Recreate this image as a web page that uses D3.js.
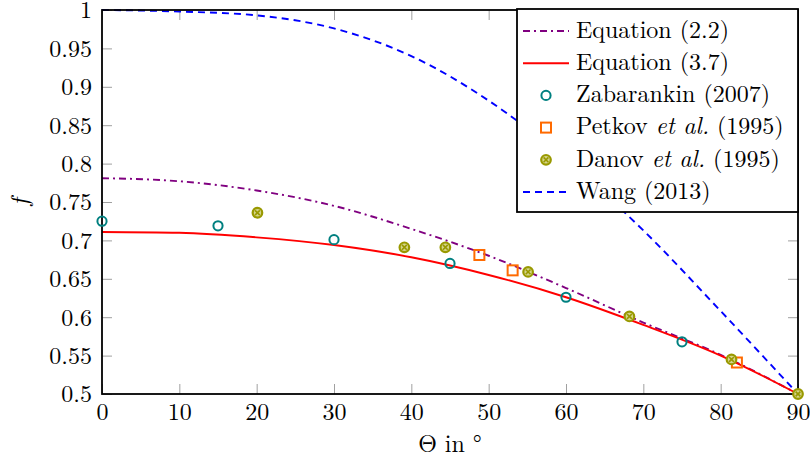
<!DOCTYPE html>
<html>
<head>
<meta charset="utf-8">
<script src="https://cdn.jsdelivr.net/npm/d3@7"></script>
<style>
  body { margin: 0; background: #fff; }
</style>
</head>
<body>
<svg id="chart" width="810" height="462"></svg>
<script>
// curves, read every 10 degrees
var thetaCurve = [0, 10, 20, 30, 40, 50, 60, 70, 80, 90];
var eq22 = [0.781, 0.777, 0.765, 0.745, 0.715, 0.680, 0.638, 0.593, 0.551, 0.5];
var eq37 = [0.711, 0.710, 0.704, 0.694, 0.678, 0.655, 0.626, 0.590, 0.550, 0.5];
var wang = [1.0, 0.998, 0.993, 0.976, 0.940, 0.882, 0.805, 0.713, 0.608, 0.5];

// measurements
var zabTheta = [0, 15, 30, 45, 60, 75];
var zabF = [0.725, 0.719, 0.701, 0.670, 0.626, 0.568];
var petTheta = [48.8, 53.1, 82.1];
var petF = [0.681, 0.661, 0.541];
var danTheta = [20.1, 39.1, 44.4, 55.1, 68.2, 81.4, 90];
var danF = [0.736, 0.691, 0.691, 0.659, 0.601, 0.545, 0.5];

var xTicks = [0, 10, 20, 30, 40, 50, 60, 70, 80, 90];
var yTicks = [0.5, 0.55, 0.6, 0.65, 0.7, 0.75, 0.8, 0.85, 0.9, 0.95, 1];

var cPurple = "#800080", cRed = "#ff0000", cTeal = "#008080",
    cOrange = "#ff6a00", cOlive = "#999900", cBlue = "#0000ff";
var font = "Latin Modern Roman, Liberation Serif, serif";
var fs = 24;

var margin = {left: 102, top: 10, right: 12, bottom: 68};
var width = 810 - margin.left - margin.right,
    height = 462 - margin.top - margin.bottom;

var svg = d3.select("#chart");
var g = svg.append("g").attr("transform", "translate(" + margin.left + "," + margin.top + ")");

var x = d3.scaleLinear().domain([0, 90]).range([0, width]);
var y = d3.scaleLinear().domain([0.5, 1]).range([height, 0]);

// ticks (inside, grey) on all four sides
function tickStyle(sel) {
    sel.select(".domain").remove();
    sel.attr("font-family", font).attr("font-size", fs);
    sel.selectAll(".tick line").attr("stroke", "#a0a0a0").attr("stroke-width", 1);
    sel.selectAll(".tick text").attr("fill", "#000");
}
g.append("g").attr("transform", "translate(0," + height + ")")
    .call(d3.axisBottom(x).tickValues(xTicks).tickSize(-10).tickPadding(10).tickFormat(d3.format("d")))
    .call(tickStyle)
    .selectAll("text").attr("dy", "0.66em");
g.append("g")
    .call(d3.axisTop(x).tickValues(xTicks).tickSize(-10).tickFormat(""))
    .call(tickStyle);
g.append("g")
    .call(d3.axisLeft(y).tickValues(yTicks).tickSize(-10).tickPadding(10).tickFormat(function(d) { return String(+d.toFixed(2)); }))
    .call(tickStyle)
    .selectAll("text").attr("dy", "0.33em");
g.append("g").attr("transform", "translate(" + width + ",0)")
    .call(d3.axisRight(y).tickValues(yTicks).tickSize(-10).tickFormat(""))
    .call(tickStyle);

// curves
var line = d3.line().curve(d3.curveMonotoneX)
    .x(function(d) { return x(d[0]); })
    .y(function(d) { return y(d[1]); });

function curve(vals, color, dash) {
    g.append("path")
        .datum(thetaCurve.map(function(t, i) { return [t, vals[i]]; }))
        .attr("d", line)
        .attr("fill", "none")
        .attr("stroke", color)
        .attr("stroke-width", 1.9)
        .attr("stroke-dasharray", dash);
}
curve(wang, cBlue, "7,5");
curve(eq22, cPurple, "7,4,2,4");
curve(eq37, cRed, null);

// frame
g.append("rect").attr("width", width).attr("height", height)
    .attr("fill", "none").attr("stroke", "#000").attr("stroke-width", 1.8);

// markers
function circleMark(sel, cx, cy) {
    sel.append("circle").attr("cx", cx).attr("cy", cy).attr("r", 4.6)
        .attr("fill", "none").attr("stroke", cTeal).attr("stroke-width", 2);
}
function squareMark(sel, cx, cy) {
    sel.append("rect").attr("x", cx - 5).attr("y", cy - 5).attr("width", 10).attr("height", 10)
        .attr("fill", "none").attr("stroke", cOrange).attr("stroke-width", 2);
}
function otimesMark(sel, cx, cy) {
    var r = 4.8, k = r * 0.5;
    sel.append("circle").attr("cx", cx).attr("cy", cy).attr("r", r)
        .attr("fill", "#d4d48a").attr("stroke", cOlive).attr("stroke-width", 2.2);
    sel.append("path")
        .attr("d", "M" + (cx - k) + "," + (cy - k) + "L" + (cx + k) + "," + (cy + k) +
                   "M" + (cx - k) + "," + (cy + k) + "L" + (cx + k) + "," + (cy - k))
        .attr("stroke", cOlive).attr("stroke-width", 1.6);
}

var marks = g.append("g");
zabTheta.forEach(function(t, i) { circleMark(marks, x(t), y(zabF[i])); });
petTheta.forEach(function(t, i) { squareMark(marks, x(t), y(petF[i])); });
danTheta.forEach(function(t, i) { otimesMark(marks, x(t), y(danF[i])); });

// axis titles
svg.append("text").attr("x", 450).attr("y", 452).attr("text-anchor", "middle")
    .attr("font-family", font).attr("font-size", fs).text("Θ in °");
svg.append("text").attr("transform", "translate(28,202) rotate(-90)")
    .attr("text-anchor", "middle").attr("font-family", font).attr("font-size", fs)
    .attr("font-style", "italic").text("f");

// legend
var legendItems = [
    {parts: [["Equation (2.2)", false]], kind: "line", color: cPurple, dash: "7,4,2,4"},
    {parts: [["Equation (3.7)", false]], kind: "line", color: cRed, dash: null},
    {parts: [["Zabarankin (2007)", false]], kind: "circle"},
    {parts: [["Petkov ", false], ["et al.", true], [" (1995)", false]], kind: "square"},
    {parts: [["Danov ", false], ["et al.", true], [" (1995)", false]], kind: "otimes"},
    {parts: [["Wang (2013)", false]], kind: "line", color: cBlue, dash: "7,5"}
];
var lg = svg.append("g").attr("transform", "translate(517,9)");
lg.append("rect").attr("width", 281).attr("height", 203)
    .attr("fill", "#fff").attr("stroke", "#000").attr("stroke-width", 1.8);
legendItems.forEach(function(d, i) {
    var cy = 22 + i * 32.2;
    if (d.kind === "line") {
        lg.append("line").attr("x1", 6).attr("x2", 52).attr("y1", cy).attr("y2", cy)
            .attr("stroke", d.color).attr("stroke-width", 1.9).attr("stroke-dasharray", d.dash);
    } else if (d.kind === "circle") {
        circleMark(lg, 29, cy);
    } else if (d.kind === "square") {
        squareMark(lg, 29, cy);
    } else {
        otimesMark(lg, 29, cy);
    }
    var t = lg.append("text").attr("x", 59).attr("y", cy).attr("dy", "0.28em")
        .attr("font-family", font).attr("font-size", fs);
    d.parts.forEach(function(p) {
        t.append("tspan").attr("font-style", p[1] ? "italic" : null).text(p[0]);
    });
});
</script>
</body>
</html>
